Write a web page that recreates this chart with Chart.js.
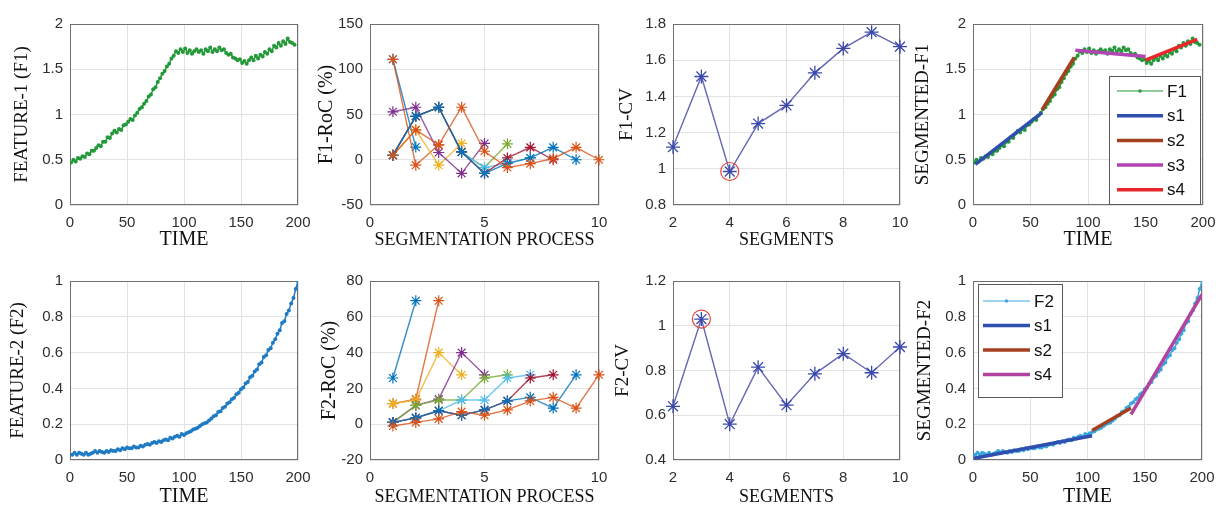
<!DOCTYPE html>
<html>
<head>
<meta charset="utf-8">
<script src="https://cdn.jsdelivr.net/npm/chart.js@4"></script>
<style>
html, body { margin: 0; padding: 0; background: #fff; overflow: hidden; }
#fig { position: relative; width: 1221px; height: 505px; }
#fig canvas { position: absolute; }
</style>
</head>
<body>
<div id="fig"></div>
<script>
// ---- data ----
const f1 = [
    0.47, 0.50, 0.48, 0.52, 0.51, 0.54, 0.53, 0.57, 0.56, 0.60,
    0.60, 0.63, 0.66, 0.65, 0.70, 0.70, 0.75, 0.74, 0.79, 0.82,
    0.80, 0.84, 0.83, 0.88, 0.89, 0.92, 0.95, 0.94, 0.99, 1.02,
    1.06, 1.08, 1.12, 1.15, 1.20, 1.22, 1.28, 1.30, 1.36, 1.40,
    1.45, 1.48, 1.53, 1.56, 1.62, 1.65, 1.70, 1.68, 1.72, 1.69,
    1.73, 1.68, 1.71, 1.67, 1.70, 1.72, 1.69, 1.71, 1.67, 1.72,
    1.70, 1.74, 1.69, 1.72, 1.70, 1.74, 1.71, 1.72, 1.68, 1.66,
    1.67, 1.63, 1.62, 1.60, 1.61, 1.57, 1.59, 1.56, 1.60, 1.63,
    1.60, 1.65, 1.62, 1.66, 1.64, 1.69, 1.67, 1.72, 1.70, 1.76,
    1.74, 1.79, 1.76, 1.81, 1.78, 1.84, 1.80, 1.79, 1.77
];
const f2 = [
    0.030, 0.040, 0.030, 0.040, 0.035, 0.030, 0.040, 0.030, 0.035, 0.040,
    0.050, 0.040, 0.050, 0.045, 0.040, 0.050, 0.045, 0.055, 0.050, 0.050,
    0.060, 0.055, 0.065, 0.060, 0.070, 0.065, 0.065, 0.075, 0.070, 0.070,
    0.080, 0.075, 0.085, 0.090, 0.085, 0.095, 0.100, 0.095, 0.105, 0.100,
    0.110, 0.115, 0.110, 0.125, 0.120, 0.130, 0.135, 0.130, 0.145, 0.140,
    0.150, 0.155, 0.160, 0.170, 0.175, 0.180, 0.190, 0.200, 0.205, 0.210,
    0.220, 0.232, 0.245, 0.250, 0.268, 0.272, 0.290, 0.298, 0.315, 0.322,
    0.340, 0.348, 0.368, 0.376, 0.395, 0.405, 0.428, 0.436, 0.462, 0.470,
    0.495, 0.505, 0.535, 0.545, 0.575, 0.585, 0.615, 0.625, 0.655, 0.675,
    0.705, 0.725, 0.765, 0.775, 0.815, 0.835, 0.875, 0.905, 0.955, 1.000
];
// sample times: f1 every 2 steps from 1, f2 every 2 steps from 2
const f1Time = f1.map((_, i) => 1 + 2 * i);
const f2Time = f2.map((_, i) => 2 + 2 * i);

// rate of change per segmentation step (series k has k+1 steps)
const f1Roc = [
    [111, 14],
    [111, -6, 16.5],
    [5, 33, -6, 18],
    [53, 58, 8, -15, 18],
    [5, 48, 58, 8.6, -8.6, 17.6],
    [5, 48, 58, 8.6, -8.6, -4, 2],
    [5, 48, 58, 8.6, -15, 2, 13.7, 0],
    [5, 48, 58, 8.6, -15, -4, 2, 13.7, 0],
    [5, 33, 16.5, 58, 9.4, -8.6, -4.3, 1.4, 13.7, 0]
];
const f2Roc = [
    [25.8, 69],
    [11.5, 14, 69],
    [11.5, 13.5, 40, 27.6],
    [1, 10.5, 14, 40, 27.6],
    [1, 10.5, 13.5, 13.5, 25.8, 27.6],
    [1, 3.5, 7.5, 13.5, 13.5, 25.8, 27.6],
    [1, 3.5, 7.5, 5, 8, 13, 25.8, 27.6],
    [1, 3.5, 7.5, 5, 8, 13, 15, 9, 27.6],
    [-1, 1, 3, 7, 5, 8, 13, 15, 9, 27.6]
];

const cvSegments = [2, 3, 4, 5, 6, 7, 8, 9, 10];
const f1Cv = [1.12, 1.51, 0.985, 1.25, 1.35, 1.53, 1.665, 1.755, 1.675];
const f2Cv = [0.64, 1.03, 0.56, 0.815, 0.645, 0.785, 0.875, 0.79, 0.905];
const f1Best = 4;
const f2Best = 3;

const f1SegNames = ['s1', 's2', 's3', 's4'];
const f1SegX = [[2, 60], [60, 88], [89, 150], [150, 195]];
const f1SegY = [[0.45, 1.02], [1.05, 1.63], [1.71, 1.64], [1.60, 1.83]];
const f2SegNames = ['s1', 's2', 's4'];
const f2SegX = [[1, 104], [104, 138], [138, 200]];
const f2SegY = [[0.01, 0.135], [0.165, 0.29], [0.255, 0.925]];

// ---- styling ----
const SANS = "'Liberation Sans', Arial, sans-serif";
const SERIF = "'Liberation Serif', 'Times New Roman', serif";
const GRID = '#e2e2e2';
const BOX = '#707070';
const TICK = '#2e2e2e';
const ORDER = ['#0072BD', '#D95319', '#EDB120', '#7E2F8E', '#77AC30', '#4DBEEE', '#A2142F'];
const SEG1 = ['#2f4fae', '#a4401f', '#b244b4', '#e8272c'];
const SEG2 = ['#2f4fae', '#a4401f', '#b0449f'];

const Y_W = 66, X_H = 50, PAD_T = 12, PAD_R = 22;

const boxPlugin = {
    id: 'box',
    beforeDatasetsDraw(chart) {
        const { ctx, chartArea: a } = chart;
        ctx.save();
        ctx.strokeStyle = BOX;
        ctx.lineWidth = 1;
        ctx.strokeRect(a.left + 0.5, a.top + 0.5, a.width - 1, a.height - 1);
        ctx.restore();
    }
};

const boxLegend = {
    id: 'boxLegend',
    afterDatasetsDraw(chart, args, opts) {
        if (!opts.show) return;
        const { ctx, chartArea: a } = chart;
        const x = a.left + opts.x, y = a.top + opts.y;
        ctx.save();
        ctx.fillStyle = '#fff';
        ctx.fillRect(x, y, opts.w, opts.h);
        ctx.strokeStyle = '#5a5a5a';
        ctx.lineWidth = 1;
        ctx.strokeRect(x + 0.5, y + 0.5, opts.w, opts.h);
        const items = chart.data.datasets.filter(d => d.label);
        items.forEach((d, i) => {
            const cy = y + opts.first + i * opts.step;
            const x0 = x + opts.lineX, x1 = x0 + opts.lineLen;
            ctx.strokeStyle = d.borderColor;
            ctx.lineWidth = d.pointRadius > 0 ? 1.2 : d.borderWidth;
            ctx.beginPath();
            ctx.moveTo(x0, cy);
            ctx.lineTo(x1, cy);
            ctx.stroke();
            if (d.pointRadius > 0) {
                ctx.fillStyle = d.pointBackgroundColor || d.borderColor;
                ctx.beginPath();
                ctx.arc((x0 + x1) / 2, cy, 1.7, 0, Math.PI * 2);
                ctx.fill();
            }
            ctx.fillStyle = '#111';
            ctx.font = '17px ' + SANS;
            ctx.textBaseline = 'middle';
            ctx.fillText(d.label, x1 + 4, cy + 1);
        });
        ctx.restore();
    }
};

function tickText(v) {
    return String(+Number(v).toFixed(2));
}

function makeAxis(min, max, step, title, size, pad, isY) {
    return {
        type: 'linear',
        min: min,
        max: max,
        afterFit: s => { if (isY) s.width = Y_W; else s.height = X_H; },
        border: { display: false },
        grid: { color: GRID, lineWidth: 1, drawTicks: false },
        ticks: {
            stepSize: step,
            padding: isY ? 7 : 9,
            color: TICK,
            font: { family: SANS, size: 15 },
            maxRotation: 0,
            autoSkip: false,
            callback: tickText
        },
        title: {
            display: true,
            text: title,
            color: '#111',
            font: { family: SERIF, size: size, lineHeight: 1.2 },
            padding: isY ? { top: pad, bottom: 0 } : { top: 0, bottom: pad }
        }
    };
}

function makePanel(box, xCfg, yCfg, datasets, legendOpts) {
    const [l, t, r, b] = box.plot;
    const canvas = document.createElement('canvas');
    const left = l - Y_W, top = t - PAD_T;
    canvas.width = r - l + Y_W + PAD_R;
    canvas.height = b - t + PAD_T + X_H;
    canvas.style.left = left + 'px';
    canvas.style.top = top + 'px';
    document.getElementById('fig').appendChild(canvas);

    const yPad = Math.max(0, box.titleX - left - yCfg[4] * 0.6);
    const xPad = Math.max(0, X_H - box.titleDy - xCfg[4] * 0.6);

    return new Chart(canvas.getContext('2d'), {
        type: 'line',
        data: { datasets: datasets },
        options: {
            responsive: false,
            animation: false,
            layout: { padding: { left: 0, top: PAD_T, right: PAD_R, bottom: 0 } },
            scales: {
                x: makeAxis(xCfg[0], xCfg[1], xCfg[2], xCfg[3], xCfg[4], xPad, false),
                y: makeAxis(yCfg[0], yCfg[1], yCfg[2], yCfg[3], yCfg[4], yPad, true)
            },
            plugins: {
                legend: { display: false },
                tooltip: { enabled: false },
                boxLegend: legendOpts || { show: false }
            }
        },
        plugins: [boxPlugin, boxLegend]
    });
}

function featureSet(values, times, color, label) {
    return {
        label: label,
        data: values.map((v, i) => ({ x: times[i], y: v })),
        borderColor: color,
        backgroundColor: color,
        pointBackgroundColor: color,
        borderWidth: 1.5,
        pointRadius: 2,
        pointBorderWidth: 0,
        tension: 0,
        order: 5
    };
}

function segmentSets(names, xs, ys, colors) {
    return names.map((n, i) => ({
        label: n,
        data: xs[i].map((x, j) => ({ x: x, y: ys[i][j] })),
        borderColor: colors[i],
        borderWidth: 3.5,
        pointRadius: 0,
        tension: 0,
        order: 1
    }));
}

function rocSets(series) {
    return series.map((vals, k) => {
        const c = ORDER[k % ORDER.length];
        return {
            data: vals.map((v, i) => ({ x: i + 1, y: v })),
            borderColor: c + 'cc',
            borderWidth: 1.4,
            pointStyle: 'star',
            pointRadius: 5.5,
            pointBorderColor: c,
            pointBorderWidth: 1.2,
            tension: 0,
            clip: false,
            order: 20 - k
        };
    });
}

function cvSets(values, best) {
    return [{
        data: values.map((v, i) => ({ x: cvSegments[i], y: v })),
        borderColor: '#6568b4',
        borderWidth: 1.4,
        pointStyle: 'star',
        pointRadius: 7,
        pointBorderColor: '#3a48ab',
        pointBorderWidth: 1.3,
        tension: 0,
        clip: false,
        order: 2
    }, {
        data: [{ x: best, y: values[cvSegments.indexOf(best)] }],
        showLine: false,
        pointStyle: 'circle',
        pointRadius: 9,
        pointBorderColor: '#e6433b',
        pointBackgroundColor: 'rgba(0,0,0,0)',
        pointBorderWidth: 1.2,
        clip: false,
        order: 1
    }];
}

const layout = {
    p1: { plot: [70, 20, 298, 205], titleX: 22, titleDy: 35 },
    p2: { plot: [370, 20, 599, 205], titleX: 327, titleDy: 35 },
    p3: { plot: [673, 20, 900, 205], titleX: 627, titleDy: 35 },
    p4: { plot: [973, 20, 1203, 205], titleX: 923, titleDy: 35 },
    p5: { plot: [70, 277, 298, 460], titleX: 18, titleDy: 37 },
    p6: { plot: [370, 277, 599, 460], titleX: 330, titleDy: 37 },
    p7: { plot: [673, 277, 900, 460], titleX: 623, titleDy: 37 },
    p8: { plot: [973, 277, 1202, 460], titleX: 925, titleDy: 37 }
};

const F1_GREEN = '#24993a';
const F2_BLUE = '#1f7bc4';
const F2_LIGHT = '#3ba7e0';

makePanel(layout.p1, [0, 200, 50, 'TIME', 20], [0, 2, 0.5, 'FEATURE-1 (F1)', 19],
    [featureSet(f1, f1Time, F1_GREEN)]);
makePanel(layout.p2, [0, 10, 5, 'SEGMENTATION PROCESS', 18], [-50, 150, 50, 'F1-RoC (%)', 20],
    rocSets(f1Roc));
makePanel(layout.p3, [2, 10, 2, 'SEGMENTS', 18], [0.8, 1.8, 0.2, 'F1-CV', 19],
    cvSets(f1Cv, f1Best));
makePanel(layout.p4, [0, 200, 50, 'TIME', 20], [0, 2, 0.5, 'SEGMENTED-F1', 19],
    [featureSet(f1, f1Time, F1_GREEN, 'F1')].concat(segmentSets(f1SegNames, f1SegX, f1SegY, SEG1)),
    { show: true, x: 136, y: 52, w: 91, h: 128, first: 15, step: 24.7, lineX: 8, lineLen: 46 });

makePanel(layout.p5, [0, 200, 50, 'TIME', 20], [0, 1, 0.2, 'FEATURE-2 (F2)', 19],
    [featureSet(f2, f2Time, F2_BLUE)]);
makePanel(layout.p6, [0, 10, 5, 'SEGMENTATION PROCESS', 18], [-20, 80, 20, 'F2-RoC (%)', 20],
    rocSets(f2Roc));
makePanel(layout.p7, [2, 10, 2, 'SEGMENTS', 18], [0.4, 1.2, 0.2, 'F2-CV', 19],
    cvSets(f2Cv, f2Best));
makePanel(layout.p8, [0, 200, 50, 'TIME', 20], [0, 1, 0.2, 'SEGMENTED-F2', 19],
    [featureSet(f2, f2Time, F2_LIGHT, 'F2')].concat(segmentSets(f2SegNames, f2SegX, f2SegY, SEG2)),
    { show: true, x: 5, y: 3, w: 84, h: 113, first: 17, step: 24.5, lineX: 5, lineLen: 47 });
</script>
</body>
</html>
